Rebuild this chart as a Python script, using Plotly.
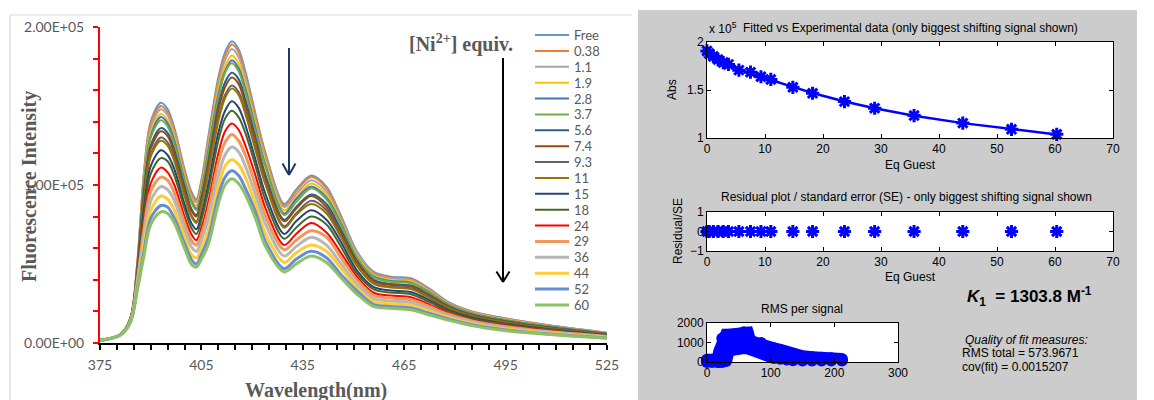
import plotly.graph_objects as go

W, H = 1154, 400

# ---------------- Left panel: fluorescence titration spectra ----------------
wavelength_nm = [375, 381, 384, 386, 388, 390, 393, 395, 397, 400, 402, 403.5, 405, 407, 410, 412,
                 414, 416, 418, 421, 424, 429.5, 433, 437.5, 442, 446, 451, 456, 461, 467, 472,
                 478, 485, 494, 507, 525]

# Fluorescence intensity in units of 10^3 (axis labels show the full value)
I_free = [2.0, 5.5, 16, 50, 108, 140, 152, 148, 136, 110, 96, 91, 103, 130, 168, 184, 191, 186, 172, 145, 120, 88, 97, 106, 99, 82, 58, 45, 42, 41, 35, 26, 20, 16, 11.5, 6.5]
I_0_38 = [2.0, 5.5, 16, 50, 107, 139, 150, 146, 135, 109, 95, 90, 102, 128, 166, 182, 189, 184, 170, 144, 119, 87, 96, 105, 98, 81, 57, 44.5, 41.5, 40.5, 34.6, 25.7, 19.8, 15.8, 11.4, 6.4]
I_1_1 = [2.0, 5.5, 15.8, 49, 105, 136, 148, 144, 133, 107, 93, 89, 100, 126, 163, 179, 186, 181, 168, 141, 117, 86, 94, 103, 96, 80, 57, 43.7, 40.9, 39.9, 34, 25.3, 19.5, 15.5, 11.2, 6.3]
I_1_9 = [1.9, 5.4, 15.7, 48, 103, 133, 145, 141, 130, 105, 91, 87, 98, 123, 160, 175, 182, 177, 164, 138, 114, 84, 92, 101, 94, 78, 55, 42.7, 39.9, 38.9, 33.2, 24.8, 19.1, 15.2, 10.9, 6.1]
I_2_8 = [1.9, 5.4, 15.6, 48, 101, 131, 143, 139, 128, 103, 90, 85, 96, 121, 157, 172, 179, 174, 161, 136, 112, 82, 91, 99, 92, 77, 54, 42, 39.2, 38.2, 32.7, 24.4, 18.8, 14.9, 10.7, 6.0]
I_3_7 = [1.9, 5.4, 15.5, 47, 100, 130, 141, 137, 126, 102, 89, 84, 95, 119, 155, 171, 177, 172, 159, 134, 111, 81, 89, 98, 91, 76, 54, 41.5, 38.8, 37.8, 32.3, 24.1, 18.6, 14.7, 10.5, 5.9]
I_5_6 = [1.9, 5.4, 15.3, 46, 96, 125, 136, 133, 122, 99, 85, 81, 92, 114, 150, 165, 171, 167, 154, 130, 106, 78, 86, 94, 88, 73, 52, 39.9, 37.4, 36.4, 31.1, 23.4, 17.9, 14.2, 10.1, 5.7]
I_7_4 = [1.9, 5.4, 15.2, 46, 94, 123, 134, 131, 120, 97, 84, 80, 90, 112, 147, 162, 168, 164, 151, 128, 104, 77, 85, 93, 86, 71, 51, 39.2, 36.7, 35.7, 30.5, 23, 17.6, 13.9, 9.9, 5.6]
I_9_3 = [1.8, 5.3, 15.0, 45, 91, 119, 130, 127, 117, 94, 81, 77, 87, 108, 142, 157, 163, 159, 147, 124, 101, 74, 82, 90, 84, 69, 49, 37.9, 35.6, 34.6, 29.5, 22.3, 17.1, 13.4, 9.6, 5.4]
I_11 = [1.8, 5.3, 15.0, 44, 90, 118, 128, 125, 115, 93, 80, 76, 86, 107, 140, 155, 161, 157, 145, 122, 100, 73, 81, 88, 82, 68, 49, 37.4, 35.1, 34.1, 29.1, 22, 16.9, 13.2, 9.4, 5.3]
I_15 = [1.8, 5.3, 14.7, 43, 85, 112, 122, 119, 110, 88, 76, 72, 81, 100, 133, 147, 153, 149, 138, 116, 94, 69, 77, 84, 78, 65, 46, 35.4, 33.3, 32.3, 27.6, 21, 16.1, 12.5, 8.9, 5.0]
I_18 = [1.7, 5.2, 14.5, 41, 81, 107, 117, 115, 106, 85, 73, 69, 78, 96, 128, 142, 147, 143, 133, 112, 90, 66, 73, 80, 75, 62, 44, 33.9, 31.9, 30.9, 26.4, 20.2, 15.4, 12, 8.5, 4.7]
I_24 = [1.7, 5.2, 14.2, 40, 76, 101, 111, 108, 100, 80, 69, 65, 73, 89, 120, 134, 139, 135, 125, 106, 85, 62, 69, 76, 70, 58, 42, 31.8, 30, 29, 24.8, 19.1, 14.6, 11.2, 7.9, 4.4]
I_29 = [1.7, 5.2, 14.0, 39, 72, 96, 105, 103, 95, 76, 65, 62, 69, 84, 114, 127, 132, 128, 119, 100, 80, 59, 65, 71, 67, 55, 40, 30.1, 28.4, 27.4, 23.5, 18.2, 13.9, 10.6, 7.4, 4.1]
I_36 = [1.6, 5.1, 13.7, 37, 67, 90, 99, 97, 90, 72, 61, 58, 65, 78, 106, 119, 124, 121, 112, 94, 75, 55, 61, 67, 62, 51, 37, 28.1, 26.6, 25.6, 21.9, 17.1, 13.1, 9.8, 6.9, 3.8]
I_44 = [1.6, 5.1, 13.4, 35, 62, 84, 93, 91, 84, 67, 56, 54, 60, 71, 99, 112, 116, 113, 105, 88, 69, 51, 57, 62, 58, 48, 35, 26, 24.8, 23.8, 20.3, 16.1, 12.2, 9.1, 6.3, 3.5]
I_52 = [1.5, 5.0, 13.2, 34, 58, 79, 87, 86, 79, 63, 53, 50, 56, 66, 93, 105, 109, 106, 98, 83, 64, 47, 53, 58, 54, 44, 33, 24.3, 23.1, 22.1, 19, 15.2, 11.5, 8.5, 5.8, 3.2]
I_60 = [1.5, 5.0, 13, 33, 55, 75, 83, 82, 76, 60, 50, 48, 53, 62, 88, 100, 104, 101, 94, 79, 61, 45, 50, 55, 51, 42, 31, 23, 22, 21, 18, 14.5, 11, 8, 5.5, 3.0]

series_names = ["Free", "0.38", "1.1", "1.9", "2.8", "3.7", "5.6", "7.4", "9.3", "11",
                "15", "18", "24", "29", "36", "44", "52", "60"]
series_values = [I_free, I_0_38, I_1_1, I_1_9, I_2_8, I_3_7, I_5_6, I_7_4, I_9_3, I_11,
                 I_15, I_18, I_24, I_29, I_36, I_44, I_52, I_60]
series_colors = ["#5B9BD5", "#ED7D31", "#A5A5A5", "#FFC000", "#4472C4", "#70AD47", "#255E91",
                 "#9E480E", "#636363", "#997300", "#264478", "#43682B", "#FF0000", "#F1975A",
                 "#B7B7B7", "#FFCD33", "#698ED0", "#8CC168"]
series_widths = [2, 2, 2, 2, 2, 2, 2, 2, 2, 2, 2, 2, 2, 3, 3, 3, 3, 3]

y_tick_vals = [0, 100, 200]
y_tick_text = ["0.00E+00", "1.00E+05", "2.00E+05"]
x_tick_vals = [375, 405, 435, 465, 495, 525]

# ---------------- Right panel: binding fit (MATLAB-style) ----------------
eq_guest = [0, 0.38, 1.1, 1.9, 2.8, 3.7, 5.5, 7.5, 9.3, 11.0, 14.8, 18.2, 23.7, 28.9, 35.7, 44.1, 52.5, 60.3]
abs_exp_1e5 = [1.907, 1.88, 1.85, 1.817, 1.786, 1.766, 1.707, 1.686, 1.638, 1.61, 1.528, 1.466,
               1.379, 1.31, 1.234, 1.155, 1.09, 1.038]
abs_fit_1e5 = [1.905, 1.882, 1.852, 1.82, 1.79, 1.764, 1.712, 1.672, 1.636, 1.604, 1.532, 1.469,
               1.381, 1.309, 1.232, 1.155, 1.09, 1.037]
residual_se = [0, 0, 0, 0, 0, 0, 0, 0, 0, 0, 0, 0, 0, 0, 0, 0, 0, 0]

rms_signal = [0, 8, 16, 20, 24, 30, 34, 40, 50, 58, 64, 68, 75, 85, 95, 105, 115, 125, 135,
              150, 165, 180, 195, 212]
rms_upper = [120, 120, 120, 600, 1200, 1400, 1400, 1400, 1450, 1530, 1500, 1050, 1010, 970,
             800, 700, 620, 500, 400, 290, 250, 220, 190, 150]
rms_lower = [0, 0, 0, 0, 0, 50, 580, 650, 680, 720, 700, 670, 620, 550, 330, 200, 170, 130,
             90, 80, 80, 80, 80, 80]


def X(px):
    return px / W


def Y(py):
    return 1 - py / H


fig = go.Figure()

for name, vals, col, wd in zip(series_names, series_values, series_colors, series_widths):
    fig.add_trace(go.Scatter(x=wavelength_nm, y=vals, mode="lines", name=name,
                             line=dict(color=col, width=wd, shape="spline", smoothing=0.9),
                             xaxis="x", yaxis="y", showlegend=False, hoverinfo="skip"))

BLUE = "#0000FF"
fig.add_trace(go.Scatter(x=eq_guest, y=abs_fit_1e5, mode="lines", line=dict(color=BLUE, width=2.5),
                         xaxis="x2", yaxis="y2", showlegend=False, cliponaxis=False))
fig.add_trace(go.Scatter(x=eq_guest, y=abs_exp_1e5, mode="markers",
                         marker=dict(symbol="asterisk-open", size=11, color=BLUE,
                                     line=dict(color=BLUE, width=3)),
                         xaxis="x2", yaxis="y2", showlegend=False, cliponaxis=False))
fig.add_trace(go.Scatter(x=eq_guest, y=residual_se, mode="markers",
                         marker=dict(symbol="asterisk-open", size=11, color=BLUE,
                                     line=dict(color=BLUE, width=3)),
                         xaxis="x3", yaxis="y3", showlegend=False, cliponaxis=False))
fig.add_trace(go.Scatter(x=rms_signal, y=rms_lower, mode="lines+markers",
                         line=dict(color=BLUE, width=12), marker=dict(color=BLUE, size=12),
                         xaxis="x4", yaxis="y4", showlegend=False, cliponaxis=False))
fig.add_trace(go.Scatter(x=rms_signal, y=rms_upper, mode="lines+markers", fill="tonexty",
                         fillcolor=BLUE, line=dict(color=BLUE, width=12),
                         marker=dict(color=BLUE, size=12),
                         xaxis="x4", yaxis="y4", showlegend=False, cliponaxis=False))

EXCEL_GRAY = "#595959"
excel_font = dict(family="Lato", size=14, color=EXCEL_GRAY)
mat_font = dict(family="Liberation Sans", size=12, color="black")

mat_axis = dict(showline=True, linecolor="black", linewidth=1, mirror="allticks",
                ticks="inside", ticklen=4, tickcolor="black", tickwidth=1,
                showgrid=False, zeroline=False, tickfont=mat_font)

layout = dict(
    width=W, height=H, margin=dict(l=0, r=0, t=0, b=0, autoexpand=False),
    paper_bgcolor="white", plot_bgcolor="rgba(0,0,0,0)",
    showlegend=False,
    xaxis=dict(domain=[X(100), X(607)], range=[375, 525], anchor="y",
               tickvals=x_tick_vals, ticks="outside", ticklen=5, tickwidth=1.5,
               tickcolor="black", showline=True, linecolor="black", linewidth=2,
               minor=dict(dtick=5, tick0=375, ticks="outside", ticklen=5, tickwidth=1.5,
                          tickcolor="black"),
               showgrid=False, zeroline=False, tickfont=excel_font, ticklabelstandoff=3),
    yaxis=dict(domain=[Y(343), Y(27)], range=[0, 200], anchor="x",
               tickvals=y_tick_vals, ticktext=y_tick_text, ticks="outside", ticklen=5,
               tickwidth=1.5, tickcolor="#FF0000", showline=True, linecolor="#FF0000",
               linewidth=2,
               minor=dict(dtick=20, tick0=0, ticks="outside", ticklen=5, tickwidth=1.5,
                          tickcolor="#FF0000"),
               showgrid=False, zeroline=False, tickfont=excel_font, ticklabelstandoff=6),
    xaxis2=dict(mat_axis, domain=[X(707), X(1113)], range=[0, 70], dtick=10, anchor="y2"),
    yaxis2=dict(mat_axis, domain=[Y(138), Y(42)], range=[1, 2], tickvals=[1, 1.5, 2],
                ticktext=["1", "1.5", "2"], anchor="x2"),
    xaxis3=dict(mat_axis, domain=[X(707), X(1113)], range=[0, 70], dtick=10, anchor="y3"),
    yaxis3=dict(mat_axis, domain=[Y(251), Y(212)], range=[-1, 1], dtick=1, anchor="x3"),
    xaxis4=dict(mat_axis, domain=[X(707), X(898)], range=[0, 300], dtick=100, anchor="y4"),
    yaxis4=dict(mat_axis, domain=[Y(362), Y(323)], range=[0, 2000], dtick=1000, anchor="x4"),
)

shapes = []
# Excel chart frame (top and left edges visible)
shapes.append(dict(type="line", xref="paper", yref="paper", x0=X(10), x1=X(632), y0=Y(15), y1=Y(15),
                   line=dict(color="#D9D9D9", width=1.2), layer="below"))
shapes.append(dict(type="line", xref="paper", yref="paper", x0=X(10), x1=X(10), y0=Y(15), y1=Y(400),
                   line=dict(color="#D9D9D9", width=1.2), layer="below"))
# MATLAB figure background
shapes.append(dict(type="rect", xref="paper", yref="paper", x0=X(638), x1=X(1137), y0=Y(400), y1=Y(10),
                   fillcolor="#CCCCCC", line=dict(width=0), layer="below"))
for xa, ya in [("x2", "y2"), ("x3", "y3"), ("x4", "y4")]:
    shapes.append(dict(type="rect", xref=xa + " domain", yref=ya + " domain", x0=0, x1=1, y0=0, y1=1,
                       fillcolor="white", line=dict(width=0), layer="below"))


def arrow(x, y0, y1, color, width, hw, hh):
    out = [dict(type="line", xref="paper", yref="paper", x0=X(x), x1=X(x), y0=Y(y0), y1=Y(y1),
                line=dict(color=color, width=width))]
    out.append(dict(type="line", xref="paper", yref="paper", x0=X(x - hw), x1=X(x), y0=Y(y1 - hh), y1=Y(y1),
                    line=dict(color=color, width=width)))
    out.append(dict(type="line", xref="paper", yref="paper", x0=X(x + hw), x1=X(x), y0=Y(y1 - hh), y1=Y(y1),
                    line=dict(color=color, width=width)))
    return out


shapes += arrow(503, 58, 282, "black", 2, 6.5, 10.5)
shapes += arrow(289, 48, 175, "#1F3864", 2, 6.5, 11.5)

annotations = []
# legend (drawn manually for Excel-like compact spacing)
for i, (name, col, wd) in enumerate(zip(series_names, series_colors, series_widths)):
    yy = 35 + 15.88 * i
    shapes.append(dict(type="line", xref="paper", yref="paper", x0=X(535), x1=X(569), y0=Y(yy), y1=Y(yy),
                       line=dict(color=col, width=wd)))
    annotations.append(dict(xref="paper", yref="paper", x=X(572), y=Y(yy), text=name, showarrow=False,
                            xanchor="left", yanchor="middle", font=dict(family="Lato", size=13, color=EXCEL_GRAY)))


def ann(x, y, text, size=12, family="Liberation Sans", color="black", xanchor="center", angle=0):
    annotations.append(dict(xref="paper", yref="paper", x=X(x), y=Y(y), text=text, showarrow=False,
                            xanchor=xanchor, yanchor="middle", textangle=angle,
                            font=dict(family=family, size=size, color=color)))


ann(29, 187, "<b>Fluorescence Intensity</b>", size=20, family="Liberation Serif", color=EXCEL_GRAY, angle=-90)
ann(316, 390, "<b>Wavelength(nm)</b>", size=20, family="Liberation Serif", color=EXCEL_GRAY)
ann(407, 43, "<b>[Ni<sup>2+</sup>] equiv.</b>", size=20, family="Liberation Serif", color=EXCEL_GRAY, xanchor="left")

ann(707, 28, "x 10<sup>5</sup>", xanchor="left")
ann(910, 28, "Fitted vs Experimental data (only biggest shifting signal shown)")
ann(672, 90, "Abs", angle=-90)
ann(910, 165, "Eq Guest")
ann(906, 197, "Residual plot / standard error (SE) - only biggest shifting signal shown")
ann(678, 231, "Residual/SE", angle=-90)
ann(910, 277, "Eq Guest")
ann(802, 309, "RMS per signal")
ann(965, 296, "<b><i>K</i><sub>1</sub>  = 1303.8 M<sup>-1</sup></b>", size=17, xanchor="left")
ann(963, 340, "<i>Quality of fit measures:</i>", xanchor="left")
ann(960, 353, "RMS total = 573.9671", xanchor="left")
ann(960, 367, "cov(fit) = 0.0015207", xanchor="left")

layout["shapes"] = shapes
layout["annotations"] = annotations
fig.update_layout(**layout)
fig.write_html("out.html", post_script="document.body.style.margin='0px';document.body.style.overflow='hidden';")
